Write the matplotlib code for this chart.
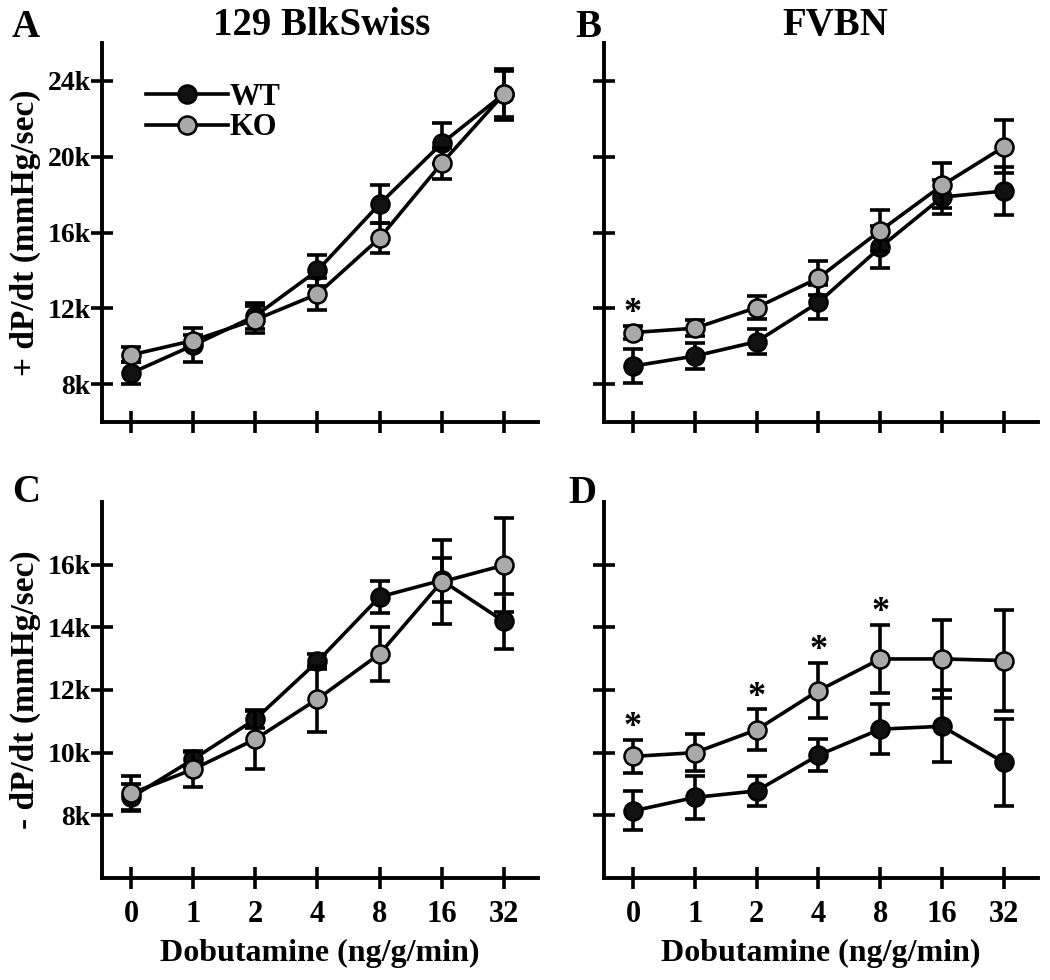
import matplotlib
matplotlib.use("Agg")
import matplotlib.pyplot as plt
from matplotlib.ticker import FuncFormatter

plt.rcParams['font.family'] = ['Liberation Serif', 'DejaVu Serif']
plt.rcParams['font.weight'] = 'bold'

# Dobutamine doses (ng/g/min)
doses = ['0', '1', '2', '4', '8', '16', '32']

# A: 129 BlkSwiss, +dP/dt
a_wt = [8580, 10050, 11600, 14000, 17500, 20700, 23300]
a_wt_err = [600, 900, 700, 800, 1000, 1100, 1350]
a_ko = [9540, 10300, 11400, 12750, 15700, 19650, 23300]
a_ko_err = [400, 300, 700, 850, 800, 800, 1200]

# B: FVBN, +dP/dt
b_wt = [8950, 9480, 10240, 12310, 15220, 17870, 18190]
b_wt_err = [900, 700, 650, 900, 1100, 900, 1250]
b_ko = [10720, 10950, 12040, 13600, 16100, 18490, 20520]
b_ko_err = [350, 420, 600, 900, 1070, 1200, 1400]
b_sig = [0]

# C: 129 BlkSwiss, -dP/dt
c_wt = [8570, 9790, 11070, 12910, 14970, 15500, 14190]
c_wt_err = [430, 240, 270, 250, 500, 700, 870]
c_ko = [8700, 9470, 10430, 11710, 13150, 15450, 15980]
c_ko_err = [540, 580, 940, 1050, 870, 1330, 1500]

# D: FVBN, -dP/dt
d_wt = [8140, 8570, 8780, 9920, 10750, 10840, 9690]
d_wt_err = [620, 700, 470, 500, 800, 1150, 1380]
d_ko = [9880, 10000, 10730, 11980, 12990, 12990, 12940]
d_ko_err = [520, 600, 650, 880, 1080, 1250, 1600]
d_sig = [0, 2, 3, 4]

GREY = '#a9a9a9'
x = list(range(len(doses)))

fig = plt.figure(figsize=(10.5, 9.8), dpi=100)
axA = fig.add_axes([0.0971, 0.5694, 0.4152, 0.3867])
axB = fig.add_axes([0.5752, 0.5694, 0.4133, 0.3867])
axC = fig.add_axes([0.0971, 0.1041, 0.4152, 0.3837])
axD = fig.add_axes([0.5752, 0.1041, 0.4133, 0.3837])

kfmt = FuncFormatter(lambda v, p: '%dk' % round(v / 1000))


def draw(ax, wt, wt_err, ko, ko_err, sig=()):
    ax.errorbar(x, wt, yerr=wt_err, fmt='none', ecolor='black',
                elinewidth=2.6, capsize=7.5, capthick=2.6, zorder=2)
    ax.plot(x, wt, '-o', color='black', lw=2.6, ms=13,
            mfc='#111111', mec='black', mew=1.8, zorder=3, label='WT')
    ax.errorbar(x, ko, yerr=ko_err, fmt='none', ecolor='black',
                elinewidth=2.6, capsize=7.5, capthick=2.6, zorder=4)
    ax.plot(x, ko, '-o', color='black', lw=2.6, ms=13,
            mfc=GREY, mec='black', mew=1.8, zorder=5, label='KO')
    # significance stars above the KO error bar
    for i in sig:
        ax.annotate('*', (x[i], ko[i] + ko_err[i]), xytext=(0, -3),
                    textcoords='offset points', ha='center', va='bottom',
                    fontsize=26, fontweight='bold')
    ax.set_xlim(-0.47, 6.55)
    ax.set_xticks(x)
    for s in ['top', 'right']:
        ax.spines[s].set_visible(False)
    for s in ['left', 'bottom']:
        ax.spines[s].set_linewidth(2.8)
    ax.tick_params(direction='inout', length=16, width=2.6)
    ax.tick_params(axis='y', pad=0, labelsize=20)
    ax.tick_params(axis='x', pad=8, labelsize=22)


draw(axA, a_wt, a_wt_err, a_ko, a_ko_err)
draw(axB, b_wt, b_wt_err, b_ko, b_ko_err, b_sig)
draw(axC, c_wt, c_wt_err, c_ko, c_ko_err)
draw(axD, d_wt, d_wt_err, d_ko, d_ko_err, d_sig)

for ax in (axA, axB):
    ax.set_ylim(6000, 26000)
    ax.set_yticks([8000, 12000, 16000, 20000, 24000])
    ax.set_xticklabels([])
for ax in (axC, axD):
    ax.set_ylim(6000, 18000)
    ax.set_yticks([8000, 10000, 12000, 14000, 16000])
    ax.set_xticklabels(doses)
    ax.set_xlabel('Dobutamine (ng/g/min)', fontsize=23, fontweight='bold')
    ax.xaxis.set_label_coords(0.5, -0.163)
    ax.xaxis.label.set_va('top')
for ax in (axA, axC):
    ax.yaxis.set_major_formatter(kfmt)
for ax in (axB, axD):
    ax.set_yticklabels([])

axA.set_ylabel('+ dP/dt (mmHg/sec)', fontsize=24, fontweight='bold')
axA.yaxis.set_label_coords(-0.14, 0.5)
axC.set_ylabel('- dP/dt (mmHg/sec)', fontsize=24, fontweight='bold')
axC.yaxis.set_label_coords(-0.14, 0.5)

axA.legend(loc='upper left', bbox_to_anchor=(0.1, 0.895), frameon=False,
           fontsize=22, handlelength=2.7, handletextpad=0.05,
           labelspacing=0.05, borderpad=0, borderaxespad=0)

fig.text(322 / 1050, 1 - 35 / 980, '129 BlkSwiss', ha='center', va='baseline',
         fontsize=28, fontweight='bold')
fig.text(835 / 1050, 1 - 35 / 980, 'FVBN', ha='center', va='baseline',
         fontsize=28, fontweight='bold')
for lab, px, py in [('A', 12, 37), ('B', 575, 37), ('C', 12, 502), ('D', 568, 503)]:
    fig.text(px / 1050, 1 - py / 980, lab, ha='left', va='baseline',
             fontsize=28, fontweight='bold')

fig.savefig('out.png', dpi=100)
